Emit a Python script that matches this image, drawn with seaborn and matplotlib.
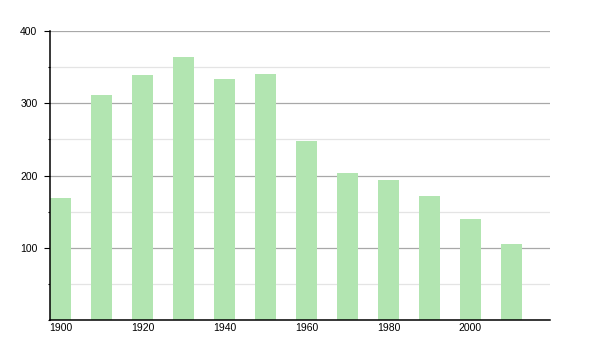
import matplotlib
matplotlib.use("Agg")
import matplotlib.pyplot as plt
from matplotlib.ticker import MultipleLocator
import seaborn as sns
import pandas as pd

years = [1900, 1910, 1920, 1930, 1940, 1950, 1960, 1970, 1980, 1990, 2000, 2010]
population = [169, 311, 339, 364, 334, 340, 248, 203, 194, 172, 140, 105]
x_ticks = [1900, 1920, 1940, 1960, 1980, 2000]
y_ticks = [100, 200, 300, 400]

df = pd.DataFrame({"year": years, "value": population})

sns.set_theme(style="white")
plt.rcParams["font.family"] = ["Liberation Sans", "DejaVu Sans"]

fig = plt.figure(figsize=(6, 3.5), dpi=100)
ax = fig.add_axes([50 / 600, 1 - 320 / 350, 500 / 600, (320 - 31) / 350])

sns.barplot(data=df, x="year", y="value", native_scale=True, width=0.52,
            color="#b2e5b1", saturation=1, linewidth=0, ax=ax, zorder=2)

ax.set_xlim(1897.45, 2019.4)
ax.set_ylim(0, 400)
ax.set_xticks(x_ticks)
ax.set_xticklabels([str(t) for t in x_ticks])
ax.set_yticks(y_ticks)
ax.set_yticklabels([str(t) for t in y_ticks])
ax.yaxis.set_minor_locator(MultipleLocator(50))

ax.grid(axis="y", which="major", color="#a8a8a8", linewidth=0.9, zorder=0)
ax.grid(axis="y", which="minor", color="#e4e4e4", linewidth=0.9, zorder=0)
ax.set_axisbelow(True)

ax.set_xlabel("")
ax.set_ylabel("")
for s in ["top", "right"]:
    ax.spines[s].set_visible(False)
for s in ["left", "bottom"]:
    ax.spines[s].set_color("black")
    ax.spines[s].set_linewidth(1.1)

ax.tick_params(axis="y", which="major", direction="out", length=4.5, width=0.8,
               color="black", left=True, labelsize=7.5, pad=4.5, labelcolor="black")
ax.tick_params(axis="y", which="minor", direction="out", length=1.8, width=0.8,
               color="black", left=True)
ax.tick_params(axis="x", which="both", bottom=False, length=0, labelsize=7.5,
               pad=2.5, labelcolor="black")

fig.savefig("out.png", dpi=100)
